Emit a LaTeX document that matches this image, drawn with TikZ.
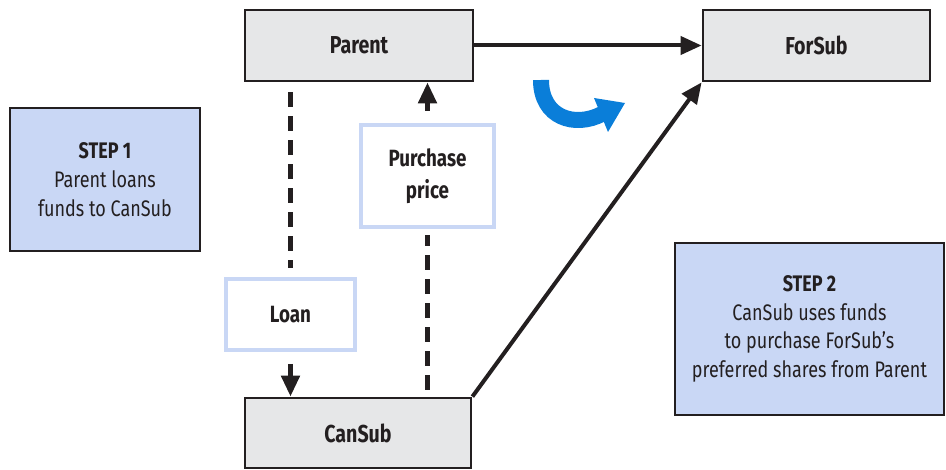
\documentclass[tikz,border=0pt]{standalone}
\usepackage{fontspec}
\setmainfont{Fira Sans}[FakeStretch=0.8]
\usetikzlibrary{arrows.meta}
\definecolor{ink}{HTML}{231F20}
\definecolor{boxgray}{HTML}{E6E7E8}
\definecolor{stepblue}{HTML}{C9D7F5}
\definecolor{arcblue}{HTML}{0A7ED9}
\begin{document}
\begin{tikzpicture}[x=1pt,y=-1pt,
  entity/.style={draw=ink,fill=boxgray,line width=2.8pt,inner sep=0pt,
    font=\fontsize{24.5}{28}\selectfont\bfseries,text=ink},
  stepbox/.style={draw=ink,fill=stepblue,line width=2.4pt,inner sep=0pt,align=center,
    font=\fontsize{22.5}{28.8}\selectfont,text=ink},
  flowlabel/.style={draw=stepblue,fill=white,line width=4pt,inner sep=0pt,align=center,
    font=\fontsize{23.5}{32}\selectfont\bfseries,text=ink},
  solidarrow/.style={draw=ink,line width=4pt,-{Triangle[length=21pt,width=18pt]}},
  dashline/.style={draw=ink,line width=5pt,dash pattern=on 15pt off 9pt},
  dasharrow/.style={draw=ink,line width=5pt,dash pattern=on 15pt off 9pt,-{Triangle[length=21pt,width=18pt]}},
]
\useasboundingbox (0,0) rectangle (946,470);

\node[entity,minimum width=228pt,minimum height=71pt] (parent) at (359,45.5) {Parent};
\node[entity,minimum width=227pt,minimum height=71pt] (forsub) at (816.5,45.5) {ForSub};
\node[entity,minimum width=226pt,minimum height=70pt] (cansub) at (358,433) {CanSub};

\node[stepbox,minimum width=190pt,minimum height=143pt] (step1) at (105,179.5)
  {\textbf{STEP 1}\\Parent loans\\funds to CanSub};
\node[stepbox,minimum width=269pt,minimum height=172pt] (step2) at (809.5,329)
  {\textbf{STEP 2}\\CanSub uses funds\\to purchase ForSub’s\\preferred shares from Parent};

\node[flowlabel,minimum width=129pt,minimum height=71pt] (loan) at (290.5,314.5) {Loan};
\node[flowlabel,minimum width=133pt,minimum height=102pt] (pp) at (427.5,176) {Purchase\\price};

% connectors
\draw[solidarrow] (parent.east) -- (forsub.west);
\draw[solidarrow] (cansub.north east) -- (forsub.south west);

\draw[dashline,shorten <=10pt,shorten >=9pt] (parent.south -| loan.north) -- (loan.north);
\draw[dasharrow,shorten <=12pt] (loan.south) -- (cansub.north -| loan.south);

\draw[dashline,shorten <=7pt,shorten >=6pt] (cansub.north -| pp.south) -- (pp.south);
\draw[dasharrow,shorten <=12pt] (pp.north) -- (parent.south -| pp.north);

% blue curved arrow
\draw[arcblue,line width=16pt] (541,80) .. controls (541,118) and (575,128) .. (602,114);
\fill[arcblue] (594,98) -- (625,103) -- (608,132) -- cycle;
\end{tikzpicture}
\end{document}
